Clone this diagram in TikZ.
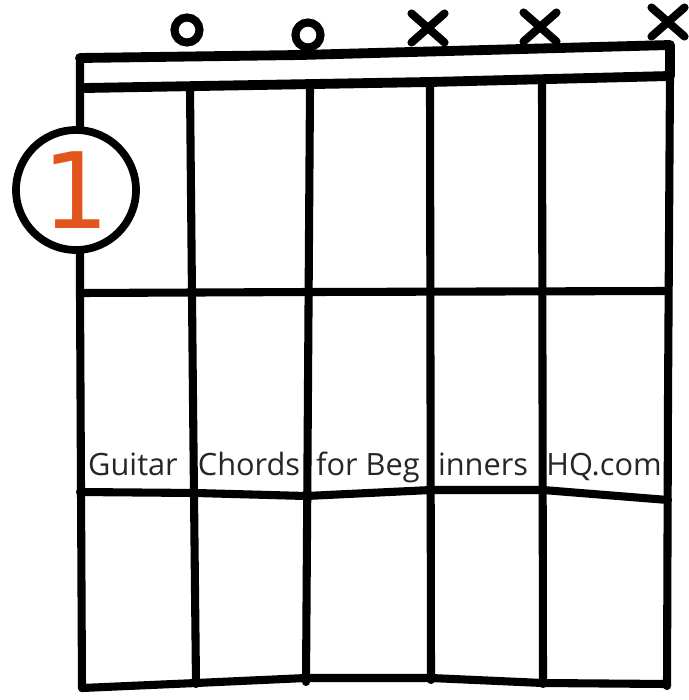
\documentclass[tikz,border=0pt]{standalone}
\usepackage{fontspec}
\newfontfamily\handfont{Open Sans}
\newfontfamily\numfont{DejaVu Sans}
\usetikzlibrary{shapes.misc}
\definecolor{fingerorange}{HTML}{E2561B}
\tikzset{
    fretline/.style={line width=4.6pt, line cap=round, line join=round},
    nutline/.style={line width=5.6pt, line cap=round, line join=round},
    openmark/.style={circle, draw, line width=4.6pt, minimum size=0.5cm, inner sep=0pt},
    mutemark/.style={cross out, draw, line width=4.6pt, line cap=round, minimum width=0.5cm, minimum height=0.42cm, inner sep=0pt},
    fretnum/.style={circle, draw, fill=white, line width=4.4pt, minimum size=2.4cm, inner sep=0pt,
        text=fingerorange, font=\numfont\fontsize{60}{62}\selectfont},
    credit/.style={anchor=base, text=black!85, font=\handfont\fontsize{17.5}{20}\selectfont}
}
\begin{document}
\begin{tikzpicture}[x=0.02cm, y=-0.02cm]
    \useasboundingbox (0,0) rectangle (689,700);

    % nut (double line)
    \draw[nutline] (80,58) -- (300,55) -- (670,45) -- (670,75);
    \draw[nutline] (85,88) -- (200,86) -- (430,82) -- (670,76);

    % strings
    \draw[fretline] (80,58) -- (80,292) -- (82,688);
    \draw[fretline] (190,88) -- (193,400) -- (196,684);
    \draw[fretline] (310,88) -- (306,682);
    \draw[fretline] (430,85) -- (431,680);
    \draw[fretline] (542,82) -- (543,684);
    \draw[fretline] (670,75) -- (668,400) -- (667,686);

    % frets
    \draw[fretline] (80,293) -- (310,292) -- (668,291);
    \draw[fretline] (80,492) -- (196,493) -- (306,496) -- (431,490) -- (543,490) -- (668,500);
    \draw[fretline] (82,688) -- (196,683) -- (306,678) -- (431,678) -- (543,683) -- (667,684);

    % open / muted strings
    \node[openmark] (open2) at (187,30) {};
    \node[openmark] (open3) at (308,35) {};
    \node[mutemark] (mute4) at (428,28) {};
    \node[mutemark] (mute5) at (540,27) {};
    \node[mutemark] (mute6) at (668,22) {};

    % fret number
    \node[fretnum] (fret1) at (76,190) {1};

    % watermark text
    \node[credit] (txt1) at (133,475) {Guitar};
    \node[credit] (txt2) at (249,475) {Chords};
    \node[credit] (txt3) at (368,475) {for Beg};
    \node[credit] (txt4) at (483,475) {inners};
    \node[credit] (txt5) at (604,475) {HQ.com};
\end{tikzpicture}
\end{document}
